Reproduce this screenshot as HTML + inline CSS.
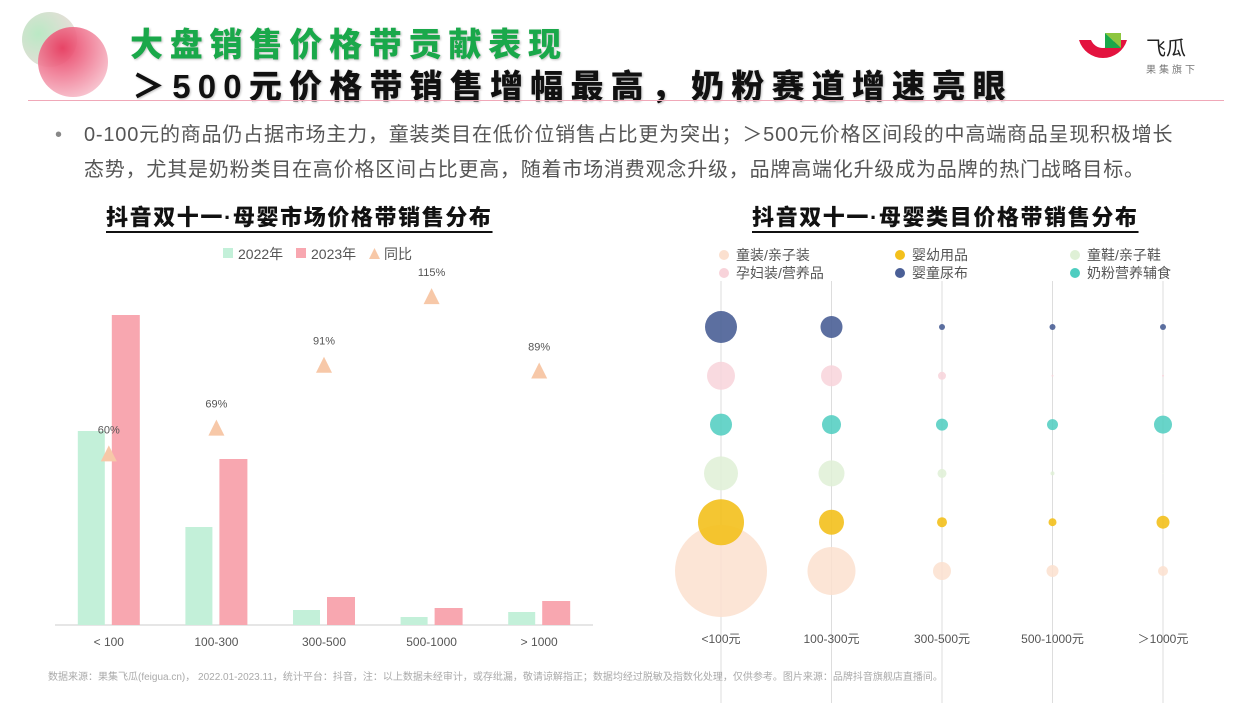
<!DOCTYPE html>
<html><head><meta charset="utf-8">
<style>
body{margin:0;width:1250px;height:703px;background:#fff;position:relative;overflow:hidden;font-family:"Liberation Sans","Noto Sans CJK SC",sans-serif;}
.abs{position:absolute;}
.t1{left:130px;top:18px;font-size:33px;font-weight:900;color:#1aa84a;letter-spacing:6.8px;white-space:nowrap;text-shadow:1px 1px 2px rgba(0,0,0,.25);}
.t2{left:132px;top:60px;font-size:33px;font-weight:900;color:#111;letter-spacing:7.2px;white-space:nowrap;text-shadow:1px 1px 2px rgba(0,0,0,.25);}
.desc{left:55px;top:118px;width:1180px;font-size:20px;line-height:35px;color:#555;letter-spacing:0.8px;white-space:nowrap;}
.ct{font-size:22px;font-weight:900;color:#111;letter-spacing:1.6px;text-decoration:underline;text-underline-offset:6px;text-decoration-thickness:2px;white-space:nowrap;}
</style></head><body>
<div class="abs" style="left:22px;top:12px;width:55px;height:55px;border-radius:50%;background:radial-gradient(circle at 30% 40%,#a9e3b6,#f6d1d8);opacity:.8"></div>
<div class="abs" style="left:38px;top:27px;width:70px;height:70px;border-radius:50%;background:radial-gradient(circle at 35% 30%,#e8335a,#f7c0cc 80%,#fde8ee);opacity:.9"></div>
<div class="abs t1">大盘销售价格带贡献表现</div>
<div class="abs t2">＞500元价格带销售增幅最高，奶粉赛道增速亮眼</div>
<div class="abs" style="left:28px;top:100px;width:1196px;height:1px;background:#f0a8b8"></div>
<svg class="abs" style="left:1076px;top:30px" width="56" height="48"><path d="M3 10 A25 25 0 0 0 51 10 L39 10 A13 13 0 0 1 15 10 Z" fill="#e3133f"/><path d="M29 3 L45 3 L45 18 Z" fill="#8dc63f"/><path d="M29 3 L29 18 L45 18Z" fill="#1aa84a"/></svg>
<div class="abs" style="left:1146px;top:32px;font-size:20px;color:#222">飞瓜</div>
<div class="abs" style="left:1146px;top:61px;font-size:10px;color:#777;letter-spacing:3px">果集旗下</div>
<div class="abs desc"><span style="position:absolute;left:0;color:#888">•</span><div style="padding-left:29px">0-100元的商品仍占据市场主力，童装类目在低价位销售占比更为突出；＞500元价格区间段的中高端商品呈现积极增长<br>态势，尤其是奶粉类目在高价格区间占比更高，随着市场消费观念升级，品牌高端化升级成为品牌的热门战略目标。</div></div>
<div class="abs ct" style="left:106px;top:200px">抖音双十一·母婴市场价格带销售分布</div>
<div class="abs ct" style="left:752px;top:200px">抖音双十一·母婴类目价格带销售分布</div>
<svg id="left" class="abs" style="left:0;top:0" width="620" height="703"></svg>
<svg id="right" class="abs" style="left:0;top:0" width="1250" height="703"></svg>
<div class="abs" style="left:48px;top:668px;font-size:10px;color:#aaa;white-space:nowrap">数据来源：果集飞瓜(feigua.cn)， 2022.01-2023.11，统计平台：抖音，注：以上数据未经审计，或存纰漏，敬请谅解指正；数据均经过脱敏及指数化处理，仅供参考。图片来源：品牌抖音旗舰店直播间。</div>
<script>
const NS='http://www.w3.org/2000/svg';
const categories=['< 100','100-300','300-500','500-1000','> 1000'];
const sales2022=[194,98,15,8,13];
const sales2023=[310,166,28,17,24];
const yoy=[60,69,91,115,89];
const yoyLabels=['60%','69%','91%','115%','89%'];
function mk(p,tag,a,txt){const e=document.createElementNS(NS,tag);for(const k in a)e.setAttribute(k,a[k]);if(txt!=null)e.textContent=txt;p.appendChild(e);return e;}
const L=document.getElementById('left');
const base=625,x0=55,x1=593,band=(x1-x0)/categories.length;
const xc=i=>x0+band*(i+0.5);
const yBar=v=>base-v;
const yPct=v=>base-2.86*v;
let e=mk(L,'line',{x1:x0,x2:x1,y1:base,y2:base,stroke:'#ccc'});

categories.forEach((c,i)=>{
 let b=mk(L,'rect',{x:xc(i)-31,y:yBar(sales2022[i]),width:27,height:base-yBar(sales2022[i]),fill:'#c3f0d9'});
 
 b=mk(L,'rect',{x:xc(i)+3,y:yBar(sales2023[i]),width:28,height:base-yBar(sales2023[i]),fill:'#f8a7b0'});
 
 const ty=yPct(yoy[i]);
 let t=mk(L,'path',{d:`M${xc(i)-8} ${ty+8} L${xc(i)+8} ${ty+8} L${xc(i)} ${ty-8} Z`,fill:'#f7c8a8'});
 
 t=mk(L,'text',{x:xc(i),y:ty-20,'text-anchor':'middle','font-size':11,fill:'#555'},yoyLabels[i]);
 
 t=mk(L,'text',{x:xc(i),y:646,'text-anchor':'middle','font-size':12,fill:'#555'},c);
 
});
const leg=[['rect','#c3f0d9','2022年',223],['rect','#f8a7b0','2023年',296],['tri','#f7c8a8','同比',369]];
leg.forEach(l=>{let g=mk(L,'g',{});
 if(l[0]=='rect')mk(g,'rect',{x:l[3],y:248,width:10,height:10,fill:l[1]});else mk(g,'path',{d:`M${l[3]} 259 L${l[3]+11} 259 L${l[3]+5.5} 248Z`,fill:l[1]});
 mk(g,'text',{x:l[3]+15,y:259,'font-size':14,fill:'#555'},l[2]);});

const R=document.getElementById('right');
const priceBands=['<100元','100-300元','300-500元','500-1000元','＞1000元'];
const seriesNames=['婴童尿布','孕妇装/营养品','奶粉营养辅食','童鞋/亲子鞋','婴幼用品','童装/亲子装'];
const seriesColors=['#4a5f96','#f8d3da','#4ecdc0','#dff0d6','#f3c01c','#fbe0cf'];
const diaper=[16,11,3,3,3];
const maternity=[14,10.5,4,1,1];
const milk=[11,9.5,6,5.5,9];
const shoes=[17,13,4.5,2,0.5];
const supplies=[23,12.5,5,4,6.5];
const clothing=[46,24,9,6,5];
const seriesVals=[diaper,maternity,milk,shoes,supplies,clothing];
const colX=i=>721+i*110.5;
const rowY=j=>327+j*48.8;
priceBands.forEach((p,i)=>{let l=mk(R,'line',{x1:colX(i),x2:colX(i),y1:280,y2:703,stroke:'#ddd'});
 
 let t=mk(R,'text',{x:colX(i),y:643,'text-anchor':'middle','font-size':12,fill:'#555'},p);
 });
[5,4,3,2,1,0].forEach(j=>{seriesVals[j].forEach((v,i)=>{
 const c=mk(R,'circle',{cx:colX(i),cy:rowY(j),r:v,fill:seriesColors[j],'fill-opacity':j==4||j==0?0.9:0.85});
 });});
const legR=[[5,724,255],[4,900,255],[3,1075,255],[1,724,273],[0,900,273],[2,1075,273]];
legR.forEach(l=>{let g=mk(R,'g',{});
 mk(g,'rect',{x:l[1]-30,y:l[2]-10,width:160,height:18,fill:'#fff'});
 mk(g,'circle',{cx:l[1],cy:l[2],r:5,fill:seriesColors[l[0]]});
 mk(g,'text',{x:l[1]+12,y:l[2]+5,'font-size':14,fill:'#555'},seriesNames[l[0]]);});
</script>
</body></html>
